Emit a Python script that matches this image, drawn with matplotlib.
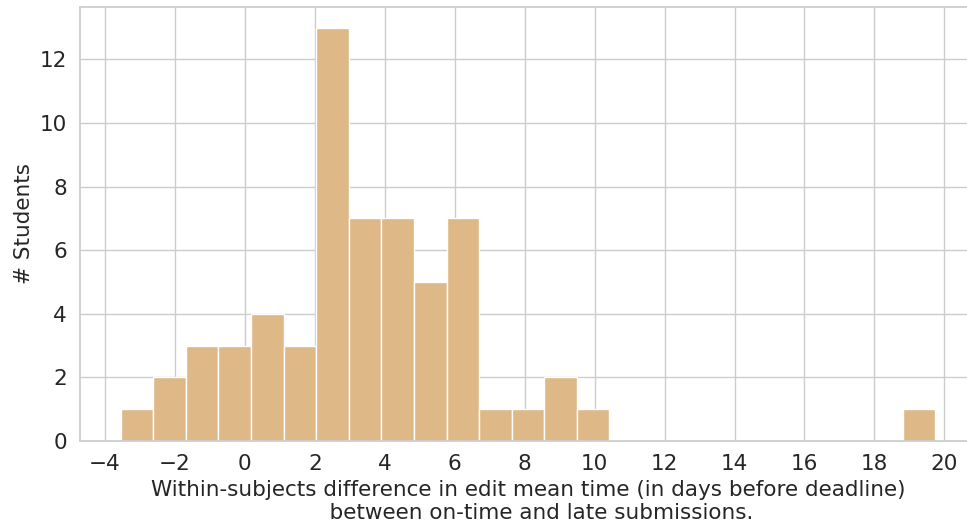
import matplotlib
matplotlib.use("Agg")
import matplotlib.pyplot as plt
import seaborn as sns
import numpy as np

# histogram counts (25 equal-width bins)
bin_start = -3.55
bin_end = 19.74
counts = [1, 2, 3, 3, 4, 3, 13, 7, 7, 5, 7, 1, 1, 2, 1,
          0, 0, 0, 0, 0, 0, 0, 0, 0, 1]
xticks = [-4, -2, 0, 2, 4, 6, 8, 10, 12, 14, 16, 18, 20]

sns.set_theme(style="whitegrid")
plt.rcParams['font.family'] = ['DejaVu Sans']

edges = np.linspace(bin_start, bin_end, len(counts) + 1)
centers = (edges[:-1] + edges[1:]) / 2

fig = plt.figure(figsize=(9.67, 5.28), dpi=100)
# axes run past the right edge, the reference is cropped there
ax = fig.add_axes([80 / 967, 87 / 528, 896 / 967, 434 / 528])

ax.hist(centers, bins=edges, weights=counts, color="burlywood",
        edgecolor="white", linewidth=1)

ax.set_xticks(xticks)
ax.tick_params(labelsize=15.5)
ax.set_ylabel("# Students", fontsize=15.5)
ax.set_xlabel("Within-subjects difference in edit mean time (in days before deadline)\n"
              "    between on-time and late submissions.", fontsize=15.5, labelpad=4)

fig.savefig("out.png", dpi=100)
